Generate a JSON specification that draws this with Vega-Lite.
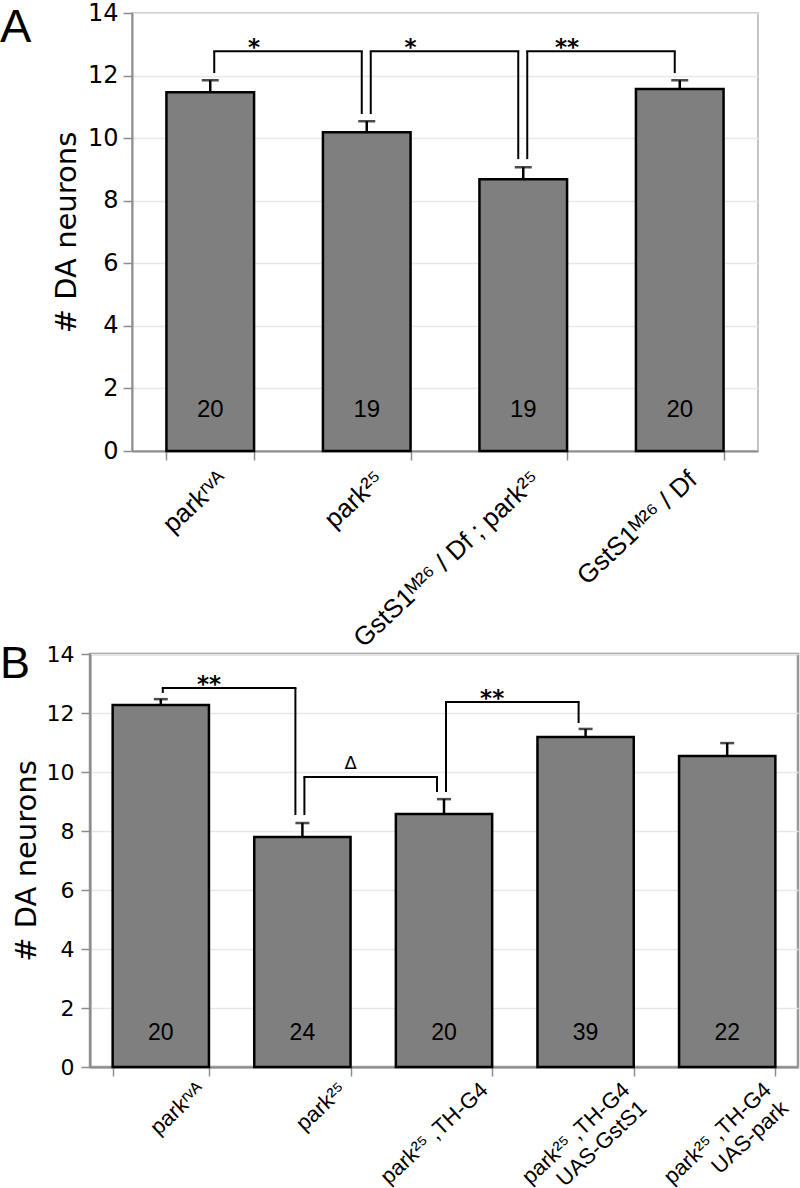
{
  "$schema": "https://vega.github.io/schema/vega-lite/v6.json",
  "padding": {"left": 0, "top": 0, "right": 0, "bottom": 0},
  "background": "white",
  "spacing": -12,
  "config": {
    "view": {"stroke": null},
    "axis": {"labelColor": "black", "titleColor": "black", "titleFontWeight": "normal"}
  },
  "vconcat": [
    {
      "bounds": "flush",
      "spacing": 0,
      "hconcat": [
        {
          "width": 132,
          "height": 438,
          "data": {"values": [{"t": "A"}]},
          "mark": {"type": "text", "font": "Liberation Sans", "fontSize": 47, "align": "left", "baseline": "top", "color": "black", "dy": -8},
          "encoding": {
            "x": {"datum": 0, "type": "quantitative", "scale": {"domain": [0, 1]}, "axis": null},
            "y": {"datum": 1, "type": "quantitative", "scale": {"domain": [0, 1]}, "axis": null},
            "text": {"field": "t"}
          }
        },
        {
          "width": 626,
          "height": 438,
          "view": {"stroke": "#c4c4c4", "strokeWidth": 2},
          "data": {"values": [
            {"g": "parkʳᵛᴬ", "mean": 11.47, "err": 11.85, "n": "20"},
            {"g": "park²⁵", "mean": 10.19, "err": 10.54, "n": "19"},
            {"g": "GstS1ᴹ²⁶ / Df ; park²⁵", "mean": 8.69, "err": 9.07, "n": "19"},
            {"g": "GstS1ᴹ²⁶ / Df", "mean": 11.57, "err": 11.85, "n": "20"}
          ]},
          "encoding": {
            "x": {"field": "g", "type": "nominal", "sort": null, "title": null,
              "scale": {"paddingInner": 0.44, "paddingOuter": 0.22},
              "axis": {"labelAngle": -43, "labelAlign": "right", "labelBaseline": "top", "labelFont": "Liberation Sans, DejaVu Sans", "labelFontSize": 26, "labelPadding": 6, "labelOffset": 4, "tickBand": "extent", "tickColor": "#8c8c8c", "tickWidth": 1.5, "tickSize": 9, "domainColor": "#8c8c8c", "domainWidth": 2, "grid": false, "labelLimit": 400}}
          },
          "layer": [
            {"mark": {"type": "bar", "fill": "#7f7f7f", "stroke": "black", "strokeWidth": 2.5},
             "encoding": {"y": {"field": "mean", "type": "quantitative", "title": "# DA neurons",
               "scale": {"domain": [0, 14], "nice": false},
               "axis": {"values": [0, 2, 4, 6, 8, 10, 12, 14], "labelFont": "DejaVu Sans", "labelFontSize": 24, "labelPadding": 5, "titleFont": "DejaVu Sans", "titleFontSize": 29, "titlePadding": 6, "tickColor": "#8c8c8c", "tickSize": 9, "tickWidth": 1.5, "domainColor": "#8c8c8c", "domainWidth": 2, "gridColor": "#e8e8e8", "gridWidth": 1.5}}}},
            {"mark": {"type": "rule", "color": "black", "strokeWidth": 2.5},
             "encoding": {"y": {"field": "mean", "type": "quantitative"}, "y2": {"field": "err"}}},
            {"mark": {"type": "tick", "color": "black", "thickness": 2.5, "size": 17, "orient": "horizontal"},
             "encoding": {"y": {"field": "err", "type": "quantitative"}}},
            {"mark": {"type": "text", "font": "Liberation Sans", "fontSize": 24, "color": "black", "baseline": "middle"},
             "encoding": {"y": {"datum": 1.31, "type": "quantitative"}, "text": {"field": "n"}}},
            {"data": {"values": [
              {"from": "parkʳᵛᴬ", "to": "park²⁵", "top": 12.78, "yFrom": 12.08, "yTo": 10.77, "sig": "*"},
              {"from": "park²⁵", "to": "GstS1ᴹ²⁶ / Df ; park²⁵", "top": 12.78, "yFrom": 10.77, "yTo": 9.33, "sig": "*"},
              {"from": "GstS1ᴹ²⁶ / Df ; park²⁵", "to": "GstS1ᴹ²⁶ / Df", "top": 12.78, "yFrom": 9.33, "yTo": 12.08, "sig": "**"}
            ]},
             "layer": [
              {"mark": {"type": "rule", "color": "black", "strokeWidth": 2, "xOffset": 4, "x2Offset": -5, "strokeCap": "square"},
               "encoding": {"x": {"field": "from", "type": "nominal", "sort": null}, "x2": {"field": "to"}, "y": {"field": "top", "type": "quantitative"}}},
              {"mark": {"type": "rule", "color": "black", "strokeWidth": 2, "xOffset": 4},
               "encoding": {"x": {"field": "from", "type": "nominal", "sort": null}, "y": {"field": "top", "type": "quantitative"}, "y2": {"field": "yFrom"}}},
              {"mark": {"type": "rule", "color": "black", "strokeWidth": 2, "xOffset": -5},
               "encoding": {"x": {"field": "to", "type": "nominal", "sort": null}, "y": {"field": "top", "type": "quantitative"}, "y2": {"field": "yTo"}}},
              {"mark": {"type": "text", "font": "DejaVu Sans", "fontWeight": "bold", "fontSize": 23, "color": "black", "baseline": "alphabetic", "dy": 4},
               "encoding": {"x": {"field": "from", "type": "nominal", "sort": null, "bandPosition": 1}, "y": {"field": "top", "type": "quantitative"}, "text": {"field": "sig"}}}
             ]}
          ]
        }
      ]
    },
    {
      "bounds": "flush",
      "spacing": 0,
      "hconcat": [
        {
          "width": 90,
          "height": 413,
          "data": {"values": [{"t": "B"}]},
          "mark": {"type": "text", "font": "Liberation Sans", "fontSize": 45, "align": "left", "baseline": "top", "color": "black", "dy": -12},
          "encoding": {
            "x": {"datum": 0, "type": "quantitative", "scale": {"domain": [0, 1]}, "axis": null},
            "y": {"datum": 1, "type": "quantitative", "scale": {"domain": [0, 1]}, "axis": null},
            "text": {"field": "t"}
          }
        },
        {
          "width": 708,
          "height": 413,
          "view": {"stroke": "#999999", "strokeWidth": 2.5},
          "data": {"values": [
            {"g": "parkʳᵛᴬ", "mean": 12.27, "err": 12.47, "n": "20"},
            {"g": "park²⁵", "mean": 7.8, "err": 8.27, "n": "24"},
            {"g": "park²⁵ ,TH-G4", "mean": 8.58, "err": 9.08, "n": "20"},
            {"g": "park²⁵ ,TH-G4|UAS-GstS1", "mean": 11.19, "err": 11.46, "n": "39"},
            {"g": "park²⁵ ,TH-G4|UAS-park", "mean": 10.54, "err": 10.98, "n": "22"}
          ]},
          "encoding": {
            "x": {"field": "g", "type": "nominal", "sort": null, "title": null,
              "scale": {"paddingInner": 0.32, "paddingOuter": 0.16},
              "axis": {"labelAngle": -43, "labelAlign": "right", "labelBaseline": "middle", "labelFont": "Liberation Sans, DejaVu Sans", "labelFontSize": 22, "labelLineHeight": 25, "labelPadding": 10, "labelOffset": 40, "labelExpr": "split(datum.label, '|')", "tickBand": "extent", "tickColor": "#8c8c8c", "tickWidth": 1.5, "tickSize": 9, "domainColor": "#8c8c8c", "domainWidth": 2, "grid": false, "labelLimit": 400}}
          },
          "layer": [
            {"mark": {"type": "bar", "fill": "#7f7f7f", "stroke": "black", "strokeWidth": 2.5},
             "encoding": {"y": {"field": "mean", "type": "quantitative", "title": "# DA neurons",
               "scale": {"domain": [0, 14], "nice": false},
               "axis": {"values": [0, 2, 4, 6, 8, 10, 12, 14], "labelFont": "DejaVu Sans", "labelFontSize": 22, "labelPadding": 7, "titleFont": "DejaVu Sans", "titleFontSize": 29, "titlePadding": 5, "tickColor": "#8c8c8c", "tickSize": 9, "tickWidth": 1.5, "domainColor": "#8c8c8c", "domainWidth": 2, "gridColor": "#e8e8e8", "gridWidth": 1.5}}}},
            {"mark": {"type": "rule", "color": "black", "strokeWidth": 2.5},
             "encoding": {"y": {"field": "mean", "type": "quantitative"}, "y2": {"field": "err"}}},
            {"mark": {"type": "tick", "color": "black", "thickness": 2.5, "size": 14, "orient": "horizontal"},
             "encoding": {"y": {"field": "err", "type": "quantitative"}}},
            {"mark": {"type": "text", "font": "Liberation Sans", "fontSize": 23, "color": "black", "baseline": "middle"},
             "encoding": {"y": {"datum": 1.15, "type": "quantitative"}, "text": {"field": "n"}}},
            {"data": {"values": [
              {"from": "parkʳᵛᴬ", "to": "park²⁵", "top": 12.85, "yFrom": 12.68, "yTo": 8.54, "sig": "**"},
              {"from": "park²⁵", "to": "park²⁵ ,TH-G4", "top": 9.83, "yFrom": 8.54, "yTo": 9.32, "sig": "Δ"},
              {"from": "park²⁵ ,TH-G4", "to": "park²⁵ ,TH-G4|UAS-GstS1", "top": 12.37, "yFrom": 9.32, "yTo": 11.66, "sig": "**"}
            ]},
             "layer": [
              {"mark": {"type": "rule", "color": "black", "strokeWidth": 2, "xOffset": 2, "x2Offset": -7, "strokeCap": "square"},
               "encoding": {"x": {"field": "from", "type": "nominal", "sort": null}, "x2": {"field": "to"}, "y": {"field": "top", "type": "quantitative"}}},
              {"mark": {"type": "rule", "color": "black", "strokeWidth": 2, "xOffset": 2},
               "encoding": {"x": {"field": "from", "type": "nominal", "sort": null}, "y": {"field": "top", "type": "quantitative"}, "y2": {"field": "yFrom"}}},
              {"mark": {"type": "rule", "color": "black", "strokeWidth": 2, "xOffset": -7},
               "encoding": {"x": {"field": "to", "type": "nominal", "sort": null}, "y": {"field": "top", "type": "quantitative"}, "y2": {"field": "yTo"}}},
              {"transform": [{"filter": "datum.sig != 'Δ'"}],
               "mark": {"type": "text", "font": "DejaVu Sans", "fontWeight": "bold", "fontSize": 23, "color": "black", "baseline": "alphabetic", "dy": 4},
               "encoding": {"x": {"field": "from", "type": "nominal", "sort": null, "bandPosition": 1}, "y": {"field": "top", "type": "quantitative"}, "text": {"field": "sig"}}},
              {"transform": [{"filter": "datum.sig == 'Δ'"}],
               "mark": {"type": "text", "font": "DejaVu Sans", "fontSize": 18, "color": "black", "baseline": "alphabetic", "dy": -8},
               "encoding": {"x": {"field": "from", "type": "nominal", "sort": null, "bandPosition": 1}, "y": {"field": "top", "type": "quantitative"}, "text": {"field": "sig"}}}
             ]}
          ]
        }
      ]
    }
  ]
}
